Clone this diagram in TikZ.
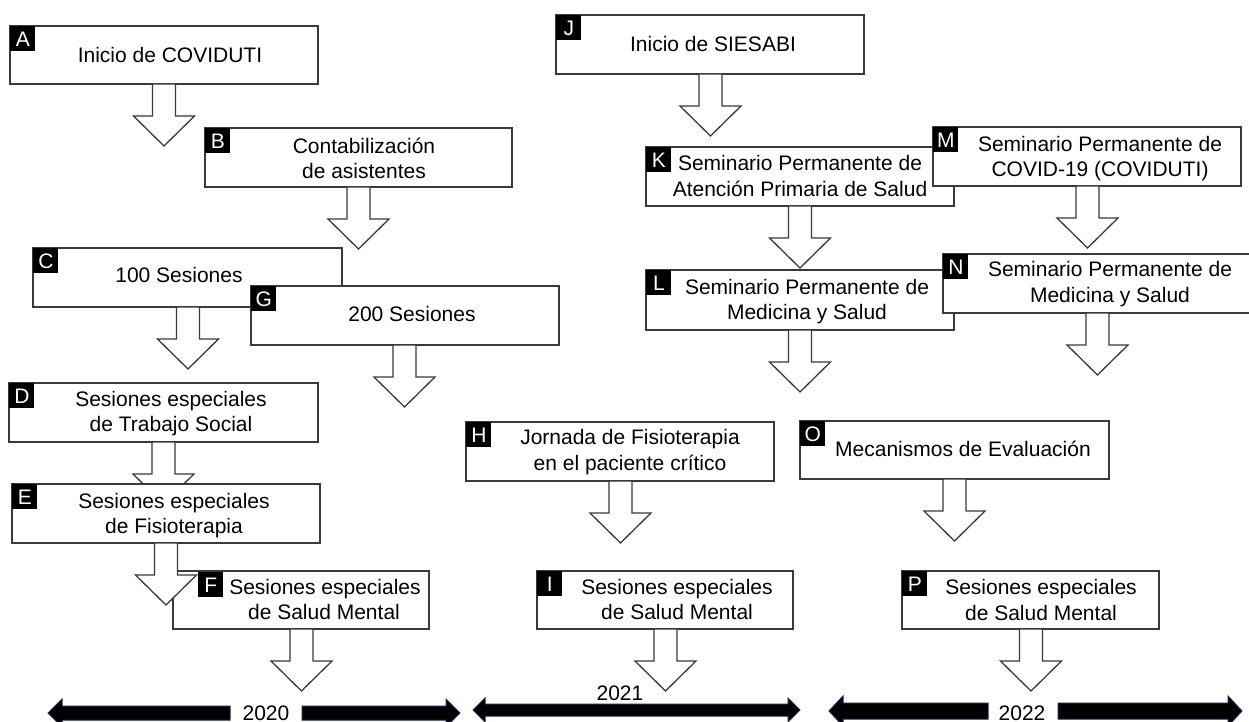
\documentclass[tikz,border=0pt]{standalone}
\usepackage{fontspec}
\setmainfont{Liberation Sans}
\usetikzlibrary{fit,calc}
\definecolor{edgecol}{HTML}{3A3A3A}
\definecolor{tlnavy}{HTML}{1E2850}
\tikzset{
  box/.style={draw=edgecol, line width=0.65pt, fill=white, inner sep=0pt, outer sep=0pt, rectangle},
  lab/.style={fill=black, text=white, inner sep=0pt, minimum size=12.5pt, anchor=north west,
              font=\fontsize{10.5}{12.5}\selectfont},
  txt/.style={inner sep=0pt, anchor=base, text=black, font=\fontsize{10.5}{12.5}\selectfont},
  blk/.style={draw=edgecol, line width=0.65pt, fill=white, line join=miter},
  tlarrow/.style={fill=black, draw=tlnavy, line width=0.5pt, line join=miter},
}
% box: name, x1, y1, x2, y2
\newcommand\mkbox[5]{\node[box, fit={(#2,#3) (#4,#5)}] (#1) {};}
% block arrow below a box: box name, x centre
\newcommand\mkarrow[2]{%
  \coordinate (#1s) at (#1.south -| #2,0);
  \draw[blk] (#1s) ++(-11.5,0) -- ++(0,32) -- ++(-19,0) -- ++(30.5,30) -- ++(30.5,-30)
     -- ++(-19,0) -- ++(0,-32) -- cycle;}
% text line: name, x centre, y centre, text
\newcommand\mktxt[4]{\node[txt] (#1) at (#2,{#3+7.5}) {#4};}
% timeline halves: tip x, bar end x, centre y, bar half, head half, head length
\newcommand\tlleft[6]{\draw[tlarrow] (#1,#3) -- ({#1+#6},{#3-#5}) -- ({#1+#6},{#3-#4}) -- (#2,{#3-#4})
   -- (#2,{#3+#4}) -- ({#1+#6},{#3+#4}) -- ({#1+#6},{#3+#5}) -- cycle;}
\newcommand\tlright[6]{\draw[tlarrow] (#1,#3) -- ({#1-#6},{#3-#5}) -- ({#1-#6},{#3-#4}) -- (#2,{#3-#4})
   -- (#2,{#3+#4}) -- ({#1-#6},{#3+#4}) -- ({#1-#6},{#3+#5}) -- cycle;}

\begin{document}
\begin{tikzpicture}[x=0.5pt,y=-0.5pt]
\useasboundingbox (0,0) rectangle (1249,722);
\fill[white] (0,0) rectangle (1249,722);

% ---------------- 2020 column ----------------
\mkbox{A}{10}{26}{318}{84}
\node[lab] (A-l) at (A.north west) {A};
\mktxt{A-t}{170}{55}{Inicio de COVIDUTI}
\mkarrow{A}{164}

\mkbox{B}{205}{128}{512}{187}
\node[lab] (B-l) at (B.north west) {B};
\mktxt{B-t}{364}{146}{Contabilización}
\mktxt{B-t2}{364}{171}{de asistentes}
\mkarrow{B}{358.5}

\mkbox{C}{33}{248}{342}{307}
\node[lab] (C-l) at (C.north west) {C};
\mktxt{C-t}{179}{275}{100 Sesiones}
\mkarrow{C}{188}

\mkbox{G}{251}{286}{559}{345}
\node[lab] (G-l) at (G.north west) {G};
\mktxt{G-t}{412}{314}{200 Sesiones}
\mkarrow{G}{404.5}

\mkbox{D}{9}{383}{318}{442}
\node[lab] (D-l) at (D.north west) {D};
\mktxt{D-t}{171}{399}{Sesiones especiales}
\mktxt{D-t2}{171}{424}{de Trabajo Social}
\mkarrow{D}{163.5}

\mkbox{E}{12}{484}{320}{543}
\node[lab] (E-l) at (E.north west) {E};
\mktxt{E-t}{174}{501}{Sesiones especiales}
\mktxt{E-t2}{174}{526}{de Fisioterapia}

\mkbox{F}{173}{571}{429}{629}
\mkarrow{E}{166}
\node[lab] (F-l) at (198,572) {F};
\mktxt{F-t}{325}{587}{Sesiones especiales}
\mktxt{F-t2}{324}{612}{de Salud Mental}
\mkarrow{F}{301.5}

% ---------------- 2021 column ----------------
\mkbox{J}{556}{15}{864}{74}
\node[lab] (J-l) at (J.north west) {J};
\mktxt{J-t}{713}{44}{Inicio de SIESABI}
\mkarrow{J}{710.5}

\mkbox{K}{646}{147}{954}{206}
\node[lab] (K-l) at (K.north west) {K};
\mktxt{K-t}{800}{163}{Seminario Permanente de}
\mktxt{K-t2}{800}{189}{Atención Primaria de Salud}
\mkarrow{K}{800}

\mkbox{M}{933}{127}{1241}{186}
\node[lab] (M-l) at (M.north west) {M};
\mktxt{M-t}{1100}{144}{Seminario Permanente de}
\mktxt{M-t2}{1100}{169}{COVID-19 (COVIDUTI)}
\mkarrow{M}{1087.5}

\mkbox{L}{646}{270}{954}{330}
\node[lab] (L-l) at (L.north west) {L};
\mktxt{L-t}{807}{287}{Seminario Permanente de}
\mktxt{L-t2}{807}{312}{Medicina y Salud}
\mkarrow{L}{800}

\mkbox{N}{943}{254}{1252}{313}
\node[lab] (N-l) at (N.north west) {N};
\mktxt{N-t}{1110}{269}{Seminario Permanente de}
\mktxt{N-t2}{1110}{295}{Medicina y Salud}
\mkarrow{N}{1097.5}

\mkbox{H}{466}{422}{774}{481}
\node[lab] (H-l) at (H.north west) {H};
\mktxt{H-t}{630}{437}{Jornada de Fisioterapia}
\mktxt{H-t2}{630}{463}{en el paciente crítico}
\mkarrow{H}{620.5}

\mkbox{I}{537}{571}{793}{629}
\node[lab] (I-l) at (I.north west) {I};
\mktxt{I-t}{677}{587}{Sesiones especiales}
\mktxt{I-t2}{677}{612}{de Salud Mental}
\mkarrow{I}{665.5}

% ---------------- 2022 column ----------------
\mkbox{O}{800}{421}{1109}{479}
\node[lab] (O-l) at (O.north west) {O};
\mktxt{O-t}{963}{449}{Mecanismos de Evaluación}
\mkarrow{O}{954.5}

\mkbox{P}{902}{571}{1159}{629}
\node[lab] (P-l) at (P.north west) {P};
\mktxt{P-t}{1041}{587}{Sesiones especiales}
\mktxt{P-t2}{1041}{613}{de Salud Mental}
\mkarrow{P}{1031}

% ---------------- timelines ----------------
\tlleft{48}{230}{713}{7}{14}{14}
\tlright{460}{302}{713}{7}{14}{14}
\mktxt{Y2020}{266}{712.5}{2020}

\draw[tlarrow] (473,710) -- (485,698) -- (485,704) -- (788,704) -- (788,698) -- (800,710)
   -- (788,722) -- (788,716) -- (485,716) -- (485,722) -- cycle;
\mktxt{Y2021}{620}{693}{2021}

\tlleft{829}{988}{711}{8}{15}{14}
\tlright{1242}{1058}{711}{8}{15}{14}
\mktxt{Y2022}{1022}{712.5}{2022}
\end{tikzpicture}
\end{document}
